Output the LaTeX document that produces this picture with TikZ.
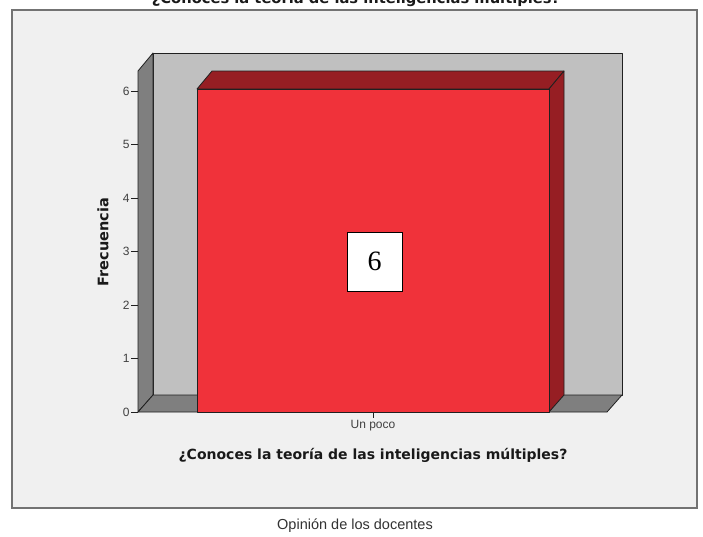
\documentclass[tikz,border=0pt]{standalone}
\usepackage{fontspec}
\setmainfont{Liberation Sans}
\newfontfamily\valfont{Liberation Serif}
\newfontfamily\labfont{DejaVu Sans}
\definecolor{panelgray}{HTML}{F0F0F0}
\definecolor{wallgray}{HTML}{C0C0C0}
\definecolor{sidegray}{HTML}{7F7F7F}
\definecolor{barred}{HTML}{F0323A}
\definecolor{bardark}{HTML}{961E23}
\definecolor{edgegray}{HTML}{202020}
\tikzset{
  face/.style={draw=edgegray, line width=0.8pt, line join=round},
  ticklab/.style={font=\fontsize{12}{14}\selectfont, text=black!75, inner sep=1pt},
  axlab/.style={font=\labfont\bfseries\fontsize{14}{16}\selectfont, text=black!90},
}
\begin{document}
\begin{tikzpicture}[x=1pt,y=-1pt]
\useasboundingbox (0,0) rectangle (703,536);
\clip (0,0) rectangle (703,536);
\fill[white] (0,0) rectangle (703,536);
\node[axlab, font=\labfont\bfseries\fontsize{14.7}{17}\selectfont, anchor=base] (ttl) at (356,3) {¿Conoces la teoría de las inteligencias múltiples?};
\draw[fill=panelgray, draw=black!55, line width=1.2pt] (12,10) rectangle (697,508);
% walls and floor
\draw[face, fill=wallgray] (153,53) rectangle (622,395);
\draw[face, fill=sidegray] (138,71) -- (153,53) -- (153,395) -- (138,412) -- cycle;
\draw[face, fill=sidegray] (138,412) -- (153,395) -- (622,395) -- (607,412) -- cycle;
% bar
\draw[face, fill=bardark] (197,89) -- (212,71) -- (564,71) -- (549,89) -- cycle;
\draw[face, fill=bardark] (549,89) -- (564,71) -- (564,395) -- (549,412) -- cycle;
\draw[face, fill=barred] (197,89) rectangle (549,412);
% axes
\foreach \v in {0,...,6}
  \draw[edgegray, line width=0.8pt] (138,{412-53.5*\v}) -- (131,{412-53.5*\v}) node[ticklab, left] (tk\v) {\v};
\draw[edgegray, line width=0.8pt] (373,412) -- (373,418) node[ticklab, below=1pt] (cat) {Un poco};
\node[axlab] (xlab) at (373,455) {¿Conoces la teoría de las inteligencias múltiples?};
\node[axlab, font=\labfont\bfseries\fontsize{14.5}{16}\selectfont, rotate=90] (ylab) at (103,242) {Frecuencia};
\node[draw=black, line width=0.8pt, fill=white, minimum width=55pt, minimum height=59pt, font=\valfont\fontsize{28}{30}\selectfont] (val) at (374.5,261.5) {6};
\node[font=\fontsize{14.5}{16}\selectfont, text=black!80] (note) at (355,526) {Opinión de los docentes};
\end{tikzpicture}
\end{document}
